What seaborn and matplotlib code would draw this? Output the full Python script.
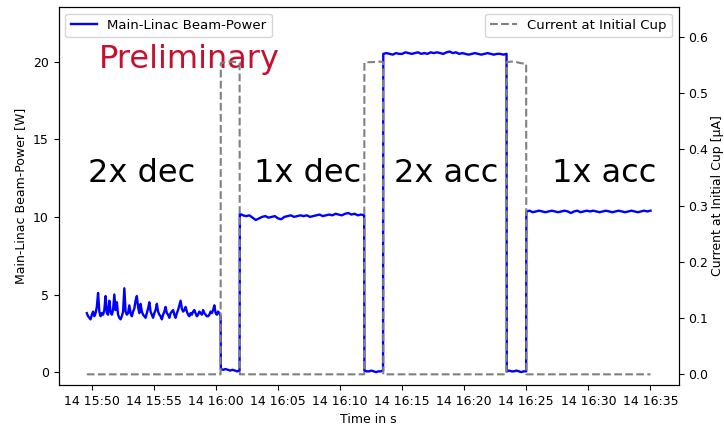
import numpy as np
import pandas as pd
import matplotlib
matplotlib.use("Agg")
import matplotlib.pyplot as plt
import matplotlib.dates as mdates
import seaborn as sns

# ---- data (time in minutes after 14 15:50) ----
day = pd.Timestamp("2024-05-14 15:50:00")

# segment boundaries [min]
seg_edges = [-0.38, 10.39, 11.92, 21.95, 23.47, 33.41, 34.99, 45.0]

# main-linac beam power [W], one list per segment
pow_2x_dec = [3.8, 3.6, 3.5, 3.4, 3.7, 3.9, 3.6, 3.8, 4.2, 5.1,
              3.9, 3.6, 3.8, 3.7, 4.0, 4.9, 3.8, 3.7, 4.6, 3.9,
              3.7, 4.0, 5.0, 4.0, 4.5, 3.7, 3.5, 3.4, 3.6, 3.9,
              5.4, 3.9, 3.7, 3.8, 4.3, 3.8, 3.6, 3.9, 4.1, 4.6,
              4.9, 4.2, 3.8, 4.4, 3.9, 3.7, 3.6, 3.5, 3.8, 4.1,
              4.5, 3.9, 3.7, 3.5, 3.8, 4.0, 4.4, 3.9, 3.7, 3.6,
              3.4, 3.7, 3.9, 4.2, 3.8, 3.7, 3.5, 3.8, 3.9, 4.0,
              3.7, 3.5, 3.8, 4.0, 4.3, 4.6, 4.1, 3.9, 4.0, 4.2,
              3.9, 3.7, 3.6, 3.8, 3.7, 3.9, 4.0, 3.8, 3.6, 3.7,
              3.9, 3.8, 3.7, 4.0, 3.8, 3.7, 3.6, 3.6, 3.7, 3.9,
              3.8, 4.0, 4.3, 3.8, 3.7, 3.9, 3.8, 3.6]
pow_gap1 = [0.2, 0.15, 0.2, 0.15, 0.1, 0.15, 0.1, 0.05, 0.1]
pow_1x_dec = [10.2, 10.1, 10.05, 10.1, 9.95, 9.8, 9.9, 10.0, 10.05, 9.95,
              10.0, 10.05, 9.9, 9.85, 10.0, 10.05, 10.1, 10.0, 10.05, 10.1,
              10.05, 10.1, 10.0, 10.05, 10.1, 10.15, 10.05, 10.1, 10.15, 10.1,
              10.2, 10.15, 10.1, 10.2, 10.25, 10.15, 10.2, 10.1, 10.15, 10.1]
pow_gap2 = [0.1, 0.05, 0.05, 0.1, 0.05, 0.0, 0.05, 0.05, 0.1]
pow_2x_acc = [20.5, 20.55, 20.5, 20.45, 20.55, 20.5, 20.5, 20.6, 20.55, 20.5,
              20.55, 20.6, 20.5, 20.55, 20.5, 20.6, 20.55, 20.6, 20.55, 20.5,
              20.6, 20.65, 20.55, 20.6, 20.5, 20.55, 20.5, 20.45, 20.5, 20.55,
              20.5, 20.45, 20.5, 20.55, 20.5, 20.45, 20.5, 20.5, 20.45, 20.5]
pow_gap3 = [0.05, 0.1, 0.05, 0.05, 0.1, 0.05, 0.0, 0.05, 0.05]
pow_1x_acc = [10.35, 10.4, 10.3, 10.35, 10.4, 10.35, 10.3, 10.35, 10.4, 10.35,
              10.3, 10.35, 10.4, 10.35, 10.25, 10.35, 10.4, 10.3, 10.35, 10.4,
              10.35, 10.4, 10.35, 10.3, 10.35, 10.4, 10.35, 10.3, 10.35, 10.4,
              10.35, 10.3, 10.35, 10.4, 10.35, 10.3, 10.35, 10.4, 10.35, 10.4]
power_segs = [pow_2x_dec, pow_gap1, pow_1x_dec, pow_gap2,
              pow_2x_acc, pow_gap3, pow_1x_acc]

# current at initial cup [uA], one list per segment
cur_off = [0.0, 0.0]
cur_gap1 = [0.553, 0.555, 0.556, 0.555, 0.554]
cur_gap2 = [0.554, 0.555, 0.555, 0.556, 0.555]
cur_gap3 = [0.555, 0.556, 0.555, 0.553, 0.552]
current_segs = [cur_off, cur_gap1, cur_off, cur_gap2, cur_off, cur_gap3, cur_off]

labels = ["2x dec", "1x dec", "2x acc", "1x acc"]
label_pos = [-0.32, 13.07, 24.36, 37.08]


def build(segs):
    ts, vs = [], []
    for k, vals in enumerate(segs):
        t0 = seg_edges[k] + (1 / 60 if k > 0 else 0)
        t1 = seg_edges[k + 1]
        mins = np.linspace(t0, t1, len(vals))
        ts.extend(day + pd.to_timedelta(mins, unit="min"))
        vs.extend(vals)
    return pd.DataFrame({"time": ts, "value": vs})


power = build(power_segs)
current = build(current_segs)

plt.rcParams["font.size"] = 9

fig, ax = plt.subplots(figsize=(7.24, 4.26), dpi=100)
fig.subplots_adjust(left=0.081, right=0.9374, top=0.9836, bottom=0.0962)

sns.lineplot(data=power, x="time", y="value", ax=ax, color="blue", lw=1.7,
             estimator=None, sort=False, label="Main-Linac Beam-Power")
ax2 = ax.twinx()
sns.lineplot(data=current, x="time", y="value", ax=ax2, color="gray", lw=1.5,
             ls="--", estimator=None, sort=False, label="Current at Initial Cup")

ax.set_ylim(-0.83, 23.52)
ax2.set_ylim(-0.019, 0.653)
ax.set_xlabel("Time in s")
ax.set_ylabel("Main-Linac Beam-Power [W]")
ax2.set_ylabel("Current at Initial Cup [μA]", labelpad=2)
ax.legend(loc="upper left", fontsize=9.5)
ax2.legend(loc="upper right", fontsize=9.5)

for lab, xm in zip(labels, label_pos):
    ax.text(mdates.date2num(day + pd.Timedelta(minutes=xm)), 12.27, lab,
            fontsize=23, ha="left", va="baseline")
ax.text(mdates.date2num(day + pd.Timedelta(minutes=0.59)), 19.57, "Preliminary",
        fontsize=23, color="#c8102e", ha="left", va="baseline")

fig.savefig("out.png", dpi=100)
